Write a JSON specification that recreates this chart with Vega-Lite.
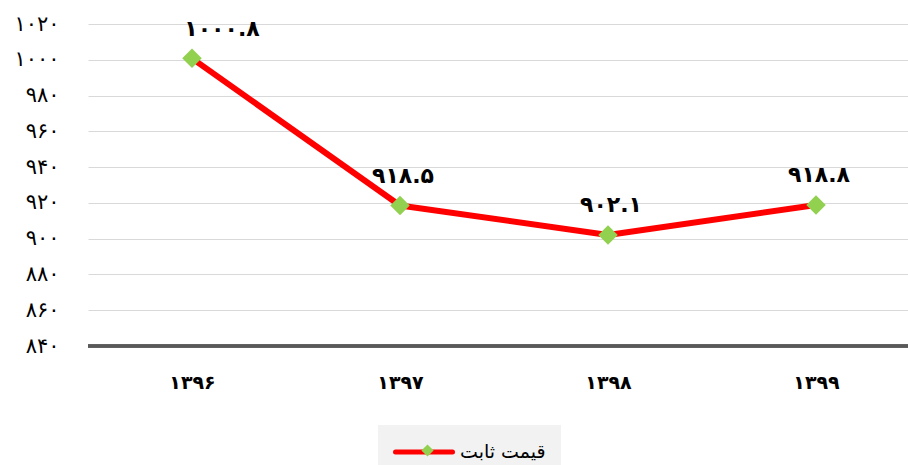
{
  "$schema": "https://vega.github.io/schema/vega-lite/v6.json",
  "width": 832,
  "height": 322,
  "autosize": "none",
  "padding": {"left": 88, "top": 24, "right": -12, "bottom": 119},
  "background": "white",
  "config": {"view": {"stroke": null}, "font": "DejaVu Sans"},
  "data": {"values": [
    {"year": "۱۳۹۶", "value": 1000.8, "label": "۱۰۰۰.۸", "series": "قیمت ثابت"},
    {"year": "۱۳۹۷", "value": 918.5, "label": "۹۱۸.۵", "series": "قیمت ثابت"},
    {"year": "۱۳۹۸", "value": 902.1, "label": "۹۰۲.۱", "series": "قیمت ثابت"},
    {"year": "۱۳۹۹", "value": 918.8, "label": "۹۱۸.۸", "series": "قیمت ثابت"}
  ]},
  "encoding": {
    "y": {
      "field": "value",
      "type": "quantitative",
      "scale": {"domain": [840, 1020], "nice": false, "zero": false},
      "axis": {
        "values": [840, 860, 880, 900, 920, 940, 960, 980, 1000, 1020],
        "format": "d",
        "labelExpr": "replace(replace(replace(replace(replace(replace(replace(replace(replace(replace(datum.label, /0/g, '۰'), /1/g, '۱'), /2/g, '۲'), /3/g, '۳'), /4/g, '۴'), /5/g, '۵'), /6/g, '۶'), /7/g, '۷'), /8/g, '۸'), /9/g, '۹')",
        "title": null,
        "domain": false,
        "ticks": false,
        "grid": true,
        "gridColor": "#d9d9d9",
        "gridWidth": 1,
        "labelOverlap": false,
        "labelFontSize": 21,
        "labelColor": "#000000",
        "labelPadding": 29
      }
    }
  },
  "layer": [
    {
      "mark": {"type": "line", "strokeWidth": 6, "strokeCap": "round", "strokeJoin": "round"},
      "encoding": {
        "x": {
          "field": "year",
          "type": "ordinal",
          "sort": null,
          "scale": {"type": "point", "padding": 0.5},
          "axis": {
            "title": null,
            "domain": false,
            "ticks": false,
            "grid": false,
            "labelAngle": 0,
            "labelFontSize": 19,
            "labelFontWeight": "bold",
            "labelColor": "#000000",
            "labelPadding": 27
          }
        },
        "stroke": {
          "field": "series",
          "type": "nominal",
          "scale": {"range": ["#ff0000"]},
          "legend": {
            "title": null,
            "orient": "none",
            "legendX": 290,
            "legendY": 401,
            "zindex": 1,
            "padding": 15,
            "fillColor": "#f2f2f2",
            "symbolType": "M-1,0H5",
            "symbolSize": 361,
            "symbolStrokeWidth": 5,
            "symbolStrokeColor": "#ff0000",
            "labelOffset": 43,
            "labelFontSize": 19,
            "labelColor": "#000000",
            "labelFont": "DejaVu Sans",
            "encode": {"symbols": {"update": {"strokeCap": {"value": "round"}}}}
          }
        }
      }
    },
    {
      "mark": {"type": "point", "shape": "diamond", "filled": true, "size": 380, "opacity": 1, "strokeWidth": 0},
      "encoding": {
        "x": {"field": "year", "type": "ordinal", "sort": null},
        "fill": {
          "datum": "قیمت ثابت",
          "type": "nominal",
          "scale": {"range": ["#92d050"]},
          "legend": {
            "title": null,
            "orient": "none",
            "legendX": 333,
            "legendY": 420,
            "zindex": 2,
            "padding": 0,
            "symbolType": "diamond",
            "symbolSize": 150,
            "symbolStrokeWidth": 0,
            "symbolOpacity": 1,
            "labelExpr": "''",
            "labelFontSize": 1,
            "labelOffset": 0
          }
        }
      }
    },
    {
      "transform": [{"filter": {"field": "year", "equal": "۱۳۹۶"}}],
      "mark": {"type": "text", "fontSize": 22, "fontWeight": "bold", "color": "#000000", "dx": 30, "dy": -29},
      "encoding": {
        "x": {"field": "year", "type": "ordinal", "sort": null},
        "text": {"field": "label"}
      }
    },
    {
      "transform": [{"filter": {"not": {"field": "year", "equal": "۱۳۹۶"}}}],
      "mark": {"type": "text", "fontSize": 22, "fontWeight": "bold", "color": "#000000", "dx": 3, "dy": -30},
      "encoding": {
        "x": {"field": "year", "type": "ordinal", "sort": null},
        "text": {"field": "label"}
      }
    },
    {
      "mark": {"type": "rule", "color": "#595959", "strokeWidth": 3},
      "encoding": {
        "y": {"datum": 840, "type": "quantitative"}
      }
    }
  ]
}
